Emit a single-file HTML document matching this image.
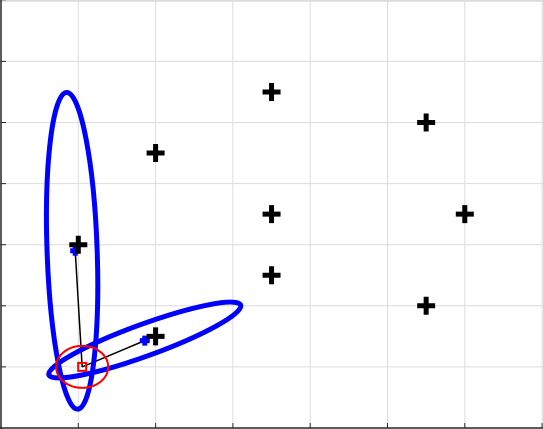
<!DOCTYPE html>
<html><head><meta charset="utf-8"><style>
html,body{margin:0;padding:0;background:#fff;}
svg{display:block;font-family:"Liberation Sans",sans-serif;}
</style></head><body>
<svg id="chart" width="543" height="429"></svg>
<script>
const xTicks=[0,1,2,3,4,5,6,7];
const yTicks=[0,1,2,3,4,5,6,7];
const pointsX=[1,2,2,3.5,3.5,3.5,5.5,5.5,6];
const pointsY=[3,4.5,1.5,5.5,3.5,2.5,5,2,3.5];
const meansX=[0.96,1.86];
const meansY=[2.9,1.43];
const ellRx=[2.05,1.32];
const ellRy=[0.41,0.26];
const ellAngle=[88,-20];
const centerX=[0.92,1.86];
const centerY=[2.9,1.44];
const redX=[1.05];
const redY=[1.0];
const X=v=>1+v*77.3;
const Y=v=>428-v*61.1;
const svg=document.getElementById('chart');
const NS='http://www.w3.org/2000/svg';
function mk(t,a){const e=document.createElementNS(NS,t);for(const k in a)e.setAttribute(k,a[k]);svg.appendChild(e);return e;}
xTicks.forEach((t,i)=>{const l=mk('line',{x1:X(t),x2:X(t),y1:0,y2:428,stroke:'#dcdcdc','stroke-width':1});


const k=mk('line',{x1:X(t),x2:X(t),y1:428,y2:423,stroke:'#262626'});

});
yTicks.forEach(t=>{const l=mk('line',{x1:0,x2:543,y1:Y(t),y2:Y(t),stroke:'#dcdcdc','stroke-width':1});


const k=mk('line',{x1:1,x2:6,y1:Y(t),y2:Y(t),stroke:'#262626'});

});
const tb=mk('line',{x1:0,x2:543,y1:1,y2:1,stroke:'#dcdcdc','stroke-width':1.5});


const ax=mk('line',{x1:1,x2:1,y1:0,y2:429,stroke:'#262626','stroke-width':1.5});


const bx=mk('line',{x1:0,x2:543,y1:428,y2:428,stroke:'#262626','stroke-width':1.5});


meansX.forEach((m,i)=>{const l=mk('line',{x1:X(redX[0]),y1:Y(redY[0]),x2:X(m),y2:Y(meansY[i]),stroke:'#000','stroke-width':1.5});

});
centerX.forEach((c,i)=>{const e=mk('ellipse',{cx:X(c),cy:Y(centerY[i]),rx:ellRx[i]*77.3,ry:ellRy[i]*61.1,fill:'none',stroke:'#0000ff','stroke-width':5,transform:`rotate(${ellAngle[i]} ${X(c)} ${Y(centerY[i])})`});

});
const rc=mk('ellipse',{cx:X(redX[0]),cy:Y(redY[0]),rx:26,ry:21,fill:'none',stroke:'#ff0000','stroke-width':2});


const rs=mk('rect',{x:X(redX[0])-4,y:Y(redY[0])-4,width:8,height:8,fill:'none',stroke:'#ff0000','stroke-width':2});


meansX.forEach((m,i)=>{const p=mk('path',{d:`M${X(m)-5},${Y(meansY[i])}h10M${X(m)},${Y(meansY[i])-5}v10`,stroke:'#0000ff','stroke-width':5});

});
pointsX.forEach((px,i)=>{const x=X(px),y=Y(pointsY[i]);
const p=mk('path',{d:`M${x-9},${y}h18M${x},${y-9}v18`,stroke:'#000','stroke-width':5});

});
</script>
</body></html>
